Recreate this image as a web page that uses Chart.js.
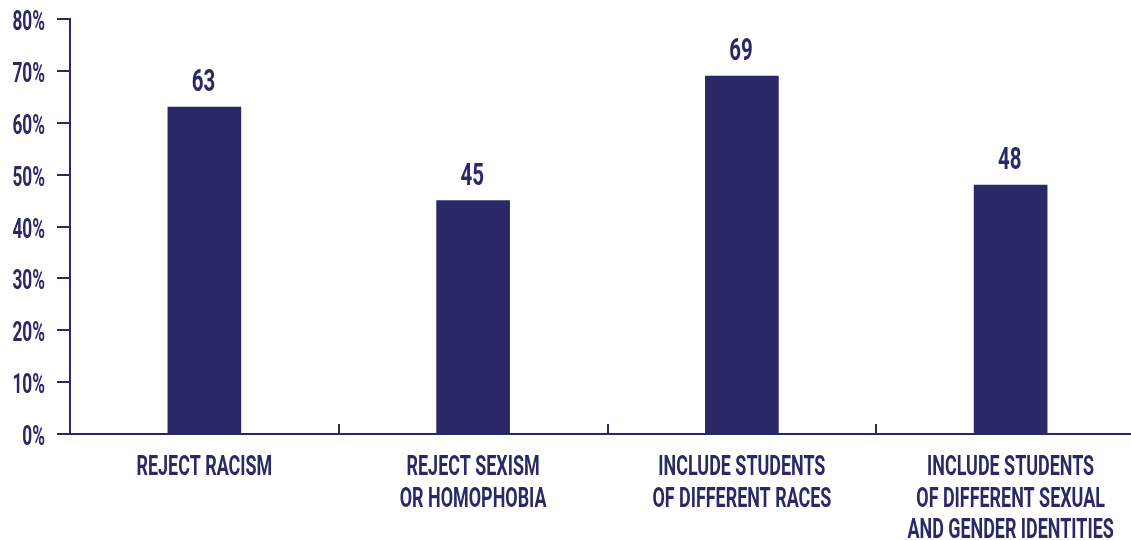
<!DOCTYPE html>
<html lang="en">
<head>
    <meta charset="UTF-8">
    <title>Schools should...</title>
    <style>
        body {
            margin: 0;
            overflow: hidden;
            background: #fff;
        }
        canvas {
            display: block;
        }
    </style>
</head>
<body>
    <canvas id="chart" width="1145" height="540"></canvas>

    <script src="https://cdn.jsdelivr.net/npm/chart.js"></script>
    <script>
        const categories = [
            ['REJECT RACISM'],
            ['REJECT SEXISM', 'OR HOMOPHOBIA'],
            ['INCLUDE STUDENTS', 'OF DIFFERENT RACES'],
            ['INCLUDE STUDENTS', 'OF DIFFERENT SEXUAL', 'AND GENDER IDENTITIES']
        ];
        const values = [63, 45, 69, 48];
        const yTicks = [0, 10, 20, 30, 40, 50, 60, 70, 80];

        const navy = '#2a2866';
        const squish = 0.64; // no condensed face installed, so narrow the text by hand

        function drawNarrow(ctx, text, x, y, size, align) {
            ctx.save();
            ctx.font = 'bold ' + size + 'px Roboto, "DejaVu Sans", sans-serif';
            ctx.fillStyle = navy;
            ctx.textAlign = align;
            ctx.textBaseline = 'alphabetic';
            ctx.translate(x, y);
            ctx.scale(squish, 1);
            ctx.fillText(text, 0, 0);
            ctx.restore();
        }

        // tick labels, category labels and bar values
        const textLayer = {
            id: 'textLayer',
            afterDraw(chart) {
                const ctx = chart.ctx;
                const xs = chart.scales.x;
                const ys = chart.scales.y;

                yTicks.forEach(v => {
                    drawNarrow(ctx, v + '%', 45, ys.getPixelForValue(v) + 11, 27, 'right');
                });

                categories.forEach((lines, i) => {
                    const cx = xs.getPixelForValue(i);
                    lines.forEach((line, j) => {
                        drawNarrow(ctx, line, cx, xs.top + 41 + j * 31.5, 28, 'center');
                    });
                });

                chart.getDatasetMeta(0).data.forEach((bar, i) => {
                    drawNarrow(ctx, String(values[i]), bar.x - 1, bar.y - 16, 32, 'center');
                });
            }
        };

        new Chart(document.getElementById('chart').getContext('2d'), {
            type: 'bar',
            data: {
                labels: categories,
                datasets: [{
                    data: values,
                    backgroundColor: navy,
                    barThickness: 73
                }]
            },
            options: {
                responsive: false,
                animation: false,
                layout: { padding: { top: 19, right: 0, bottom: 0, left: 0 } },
                plugins: {
                    legend: { display: false },
                    tooltip: { enabled: false }
                },
                scales: {
                    x: {
                        grid: {
                            offset: true,
                            drawOnChartArea: false,
                            color: navy,
                            lineWidth: 2,
                            tickLength: -10
                        },
                        border: { color: navy, width: 2 },
                        ticks: { display: false },
                        afterFit(scale) { scale.height = 106; }
                    },
                    y: {
                        min: 0,
                        max: 80,
                        afterBuildTicks(scale) {
                            scale.ticks = yTicks.map(v => ({ value: v }));
                        },
                        grid: {
                            drawOnChartArea: false,
                            color: navy,
                            lineWidth: 2,
                            tickLength: 13
                        },
                        border: { color: navy, width: 2 },
                        ticks: { display: false },
                        afterFit(scale) { scale.width = 70; }
                    }
                }
            },
            plugins: [textLayer]
        });
    </script>
</body>
</html>
